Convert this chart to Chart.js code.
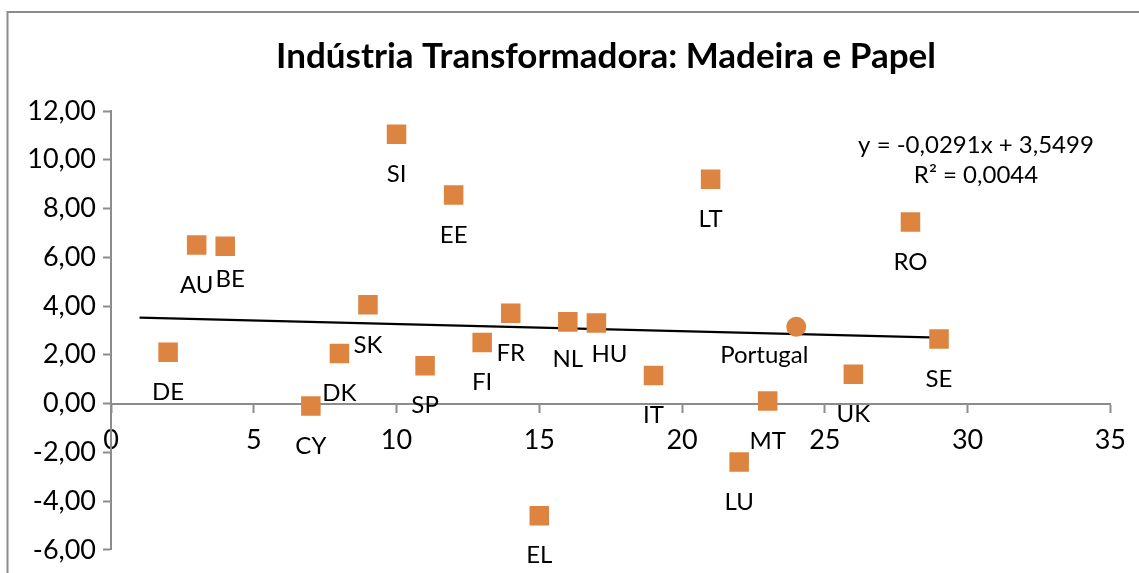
<!DOCTYPE html>
<html>
<head>
<meta charset="utf-8">
<script src="https://cdn.jsdelivr.net/npm/chart.js@4.4.1/dist/chart.umd.min.js"></script>
<style>
html,body{margin:0;padding:0;background:#fff;}
#wrap{width:1139px;height:573px;position:relative;}
</style>
</head>
<body>
<div id="wrap"><canvas id="c" width="1139" height="573"></canvas></div>
<script>
// ---- data ----
const countries = ["DE","AU","BE","CY","DK","SK","SI","SP","EE","FI","FR","EL","NL","HU","IT","LT","LU","MT","Portugal","UK","RO","SE"];
const xValues   = [2, 3, 4, 7, 8, 9, 10, 11, 12, 13, 14, 15, 16, 17, 19, 21, 22, 23, 24, 26, 28, 29];
const yValues   = [2.1, 6.5, 6.45, -0.1, 2.05, 4.05, 11.05, 1.55, 8.55, 2.5, 3.7, -4.6, 3.35, 3.3, 1.15, 9.2, -2.4, 0.1, 3.15, 1.2, 7.45, 2.65];
const trendX    = [1, 29];
const trendY    = [3.5208, 2.706];
const titleText = "Indústria Transformadora: Madeira e Papel";
const equationLines = ["y = -0,0291x + 3,5499", "R² = 0,0044"];
const xTicks = { min: 0, max: 35, step: 5 };
const yTicks = { min: -6, max: 12, step: 2 };

const points = xValues.map((x, i) => ({ x: x, y: yValues[i] }));
const trend = trendX.map((x, i) => ({ x: x, y: trendY[i] }));

const ORANGE = '#DC8440';
const AXIS = '#8c8c8c';
const FONT = 'Lato';

const labelOffsets = { "BE": [5, 33], "HU": [13, 31], "Portugal": [-32, 29], "NL": [0, 37] };

const decor = {
  id: 'decor',
  beforeDraw(chart) {
    const ctx = chart.ctx;
    ctx.save();
    ctx.strokeStyle = AXIS;
    ctx.lineWidth = 2;
    ctx.beginPath();
    ctx.moveTo(1139, 12);
    ctx.lineTo(7.5, 12);
    ctx.lineTo(7.5, 573);
    ctx.stroke();
    ctx.restore();
  },
  afterDatasetsDraw(chart) {
    const ctx = chart.ctx;
    ctx.save();
    ctx.fillStyle = '#000';
    ctx.textAlign = 'center';
    ctx.textBaseline = 'middle';
    const meta = chart.getDatasetMeta(1);
    ctx.font = '24px ' + FONT;
    meta.data.forEach((el, i) => {
      const name = countries[i];
      const off = labelOffsets[name] || [0, 40];
      ctx.fillText(name, el.x + off[0], el.y + off[1]);
    });
    // title
    ctx.font = 'bold 35px ' + FONT;
    ctx.fillText(titleText, 606, 57);
    // equation
    ctx.font = '24px ' + FONT;
    ctx.fillText(equationLines[0], 976, 145);
    ctx.fillText(equationLines[1], 976, 175);
    ctx.restore();
  }
};

new Chart(document.getElementById('c'), {
  type: 'scatter',
  data: {
    datasets: [
      {
        type: 'line',
        data: trend,
        borderColor: '#000',
        borderWidth: 2.2,
        pointRadius: 0,
        fill: false,
        order: 2
      },
      {
        data: points,
        backgroundColor: ORANGE,
        borderColor: ORANGE,
        borderWidth: 0,
        pointStyle: ctx => countries[ctx.dataIndex] === 'Portugal' ? 'circle' : 'rect',
        pointRadius: ctx => countries[ctx.dataIndex] === 'Portugal' ? 10 : 13.8,
        pointHoverRadius: 13.8,
        order: 1
      }
    ]
  },
  plugins: [decor],
  options: {
    responsive: false,
    animation: false,
    events: [],
    layout: { padding: { left: 0, top: 111, right: 27, bottom: 21 } },
    plugins: { legend: { display: false }, tooltip: { enabled: false }, title: { display: false } },
    scales: {
      x: {
        type: 'linear',
        position: { y: 0 },
        min: xTicks.min, max: xTicks.max,
        ticks: { stepSize: xTicks.step, color: '#000', font: { family: FONT, size: 27 }, padding: 13, maxRotation: 0 },
        grid: { drawOnChartArea: false, drawTicks: true, tickLength: 8, tickColor: AXIS, tickWidth: 2 },
        border: { color: AXIS, width: 2 },
        afterFit(scale) { scale.height = 0; }
      },
      y: {
        type: 'linear',
        min: yTicks.min, max: yTicks.max,
        ticks: {
          stepSize: yTicks.step, color: '#000', font: { family: FONT, size: 27 }, padding: 7,
          callback: v => v.toFixed(2).replace('.', ',')
        },
        grid: { drawOnChartArea: false, drawTicks: true, tickLength: 8, tickColor: AXIS, tickWidth: 2 },
        border: { color: AXIS, width: 2 },
        afterFit(scale) { scale.width = 111; }
      }
    }
  }
});
</script>
</body>
</html>
